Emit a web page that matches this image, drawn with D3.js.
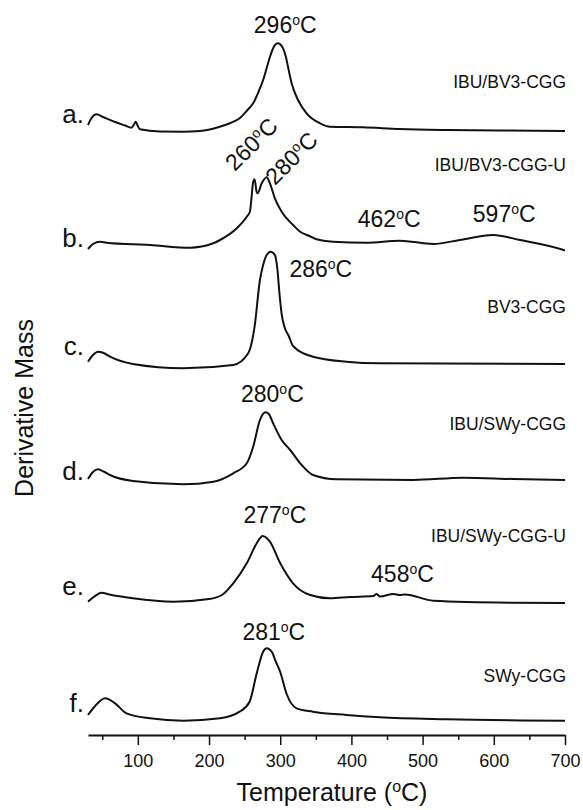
<!DOCTYPE html>
<html>
<head>
<meta charset="utf-8">
<script src="https://cdn.jsdelivr.net/npm/d3@7"></script>
<style>
  body { margin: 0; background: #fff; }
  svg text { font-family: "Liberation Sans", Arial, sans-serif; fill: #111; }
</style>
</head>
<body>
<svg id="chart" width="583" height="810"></svg>
<script>
// temperatures (°C) and derivative mass (arbitrary units, above each curve's own baseline)
const tempA = [30, 35, 42, 51, 68, 82, 91, 95, 97, 100, 103, 131, 163, 187, 215, 230, 243, 254, 262, 270, 276, 281, 285.5, 289, 292.5, 297, 301, 304, 308, 311, 316, 325, 337, 356, 370, 416, 468, 534, 609, 700];
const massA = [6, 13, 16.7, 14, 9, 5.5, 3.3, 7, 9.3, 5, 1.7, -0.5, -0.7, 0, 4.3, 8, 12.7, 21, 27.7, 40, 51, 63, 74, 81, 86, 87.7, 86, 82.7, 74, 64, 47.7, 31, 17.7, 7.7, 4.3, 3.7, 2, 1, 0.5, 0];

const tempB = [30, 37, 47, 56, 117, 173, 206, 215.5, 239, 253, 257.4, 259.8, 262, 264, 266.8, 268.2, 274, 281, 285.5, 292.5, 302, 318, 328, 341, 351, 374, 421, 468, 515, 552, 599, 637, 698, 700];
const massB = [1, 6, 8.3, 7.3, 5, 2.3, 6.7, 10, 21.7, 33.3, 38.3, 53.3, 68.3, 70.7, 58.3, 56.7, 66.7, 72.7, 66.7, 51.7, 38.3, 25, 18.3, 14, 10.7, 8.3, 7.3, 9.3, 6, 10, 15, 10, 0, -0.5];

const tempC = [30, 37, 44, 52, 61, 93, 164, 234, 255, 264, 271.5, 276, 281, 286.5, 292.5, 296, 299, 302, 306, 312, 318, 346, 393, 440, 700];
const massC = [2.3, 9, 12.3, 11, 7.3, 0, -4.3, -1, 10.7, 37.3, 84, 99, 109, 112.3, 109, 95, 70, 50, 37, 28, 18, 7.3, 2.3, 0.7, 0];

const tempD = [30, 37, 44, 52, 61, 93, 164, 206, 234, 253, 262, 271.5, 279.5, 284, 290, 302, 314, 328, 346, 379, 487, 557, 627, 700];
const massD = [1, 8, 10.7, 8.5, 5, -1, -4.3, -1.7, 6.7, 16.7, 33.3, 60, 67.7, 66, 56.7, 40, 30, 16.7, 5, 0.7, 0, 2.3, 1, 0];

const tempE = [30, 38, 49, 60, 93, 150, 200, 218, 234, 253, 267, 275.3, 285.5, 300, 318, 342, 370, 398, 430.7, 435.5, 440, 459, 468, 475, 515, 627, 700];
const massE = [1.3, 6, 10.3, 8.5, 4.7, 1.3, 4, 8, 19.7, 39.7, 59.7, 67, 61.3, 39.7, 19.7, 8, 4.7, 6, 7, 9, 6.5, 9, 8, 8.5, 2.3, 0.3, 0];

const tempF = [30, 40, 54, 68, 84, 117, 164, 215.5, 243, 257, 267, 276, 281, 288, 294, 300, 309, 323, 346, 393, 440, 534, 700];
const massF = [6, 15, 22.7, 17.7, 7.7, 2.7, 0.3, 2.7, 9.3, 19.3, 47.7, 69.3, 72.7, 69.3, 59, 49, 27, 12.7, 9.3, 6, 3.7, 1.7, 0.3];

const letters = ['a.', 'b.', 'c.', 'd.', 'e.', 'f.'];
const sampleNames = ['IBU/BV3-CGG', 'IBU/BV3-CGG-U', 'BV3-CGG', 'IBU/SWy-CGG', 'IBU/SWy-CGG-U', 'SWy-CGG'];
const offsets = [604, 485, 371, 255, 132, 14];   // vertical stacking offset per curve
const majorTicks = [100, 200, 300, 400, 500, 600, 700];
const minorTicks = [50, 150, 250, 350, 450, 550, 650];

// peak annotations: label, temperature, height (same units as the stacked curves)
const peakText = ['296', '286', '280', '277', '458', '281', '462', '597'];
const peakT    = [307, 357, 289, 292.5, 471.7, 291, 453, 614.6];
const peakV    = [702, 458, 333.3, 211.7, 153, 95, 508.3, 513.3];
const slantText = ['260', '280'];
const slantT    = [236.3, 292.5];
const slantV    = [563, 549];

const series = [[tempA, massA], [tempB, massB], [tempC, massC], [tempD, massD], [tempE, massE], [tempF, massF]];

const svg = d3.select('#chart');
const xScale = d3.scaleLinear().domain([30, 700]).range([88, 565]);
const yScale = d3.scaleLinear().domain([0, 620]).range([735, 115]);

const line = d3.line()
    .x(d => xScale(d[0]))
    .y(d => yScale(d[1]))
    .curve(d3.curveMonotoneX);

series.forEach((s, i) => {
    const pts = s[0].map((t, j) => [t, s[1][j] + offsets[i]]);
    svg.append('path')
        .datum(pts)
        .attr('d', line)
        .attr('fill', 'none')
        .attr('stroke', '#111')
        .attr('stroke-width', 2)
        .attr('stroke-linejoin', 'round');
});

// x axis: major + minor ticks
const xAxis = d3.axisBottom(xScale).tickValues(majorTicks).tickSize(10).tickSizeOuter(0).tickPadding(9);
const gx = svg.append('g').attr('transform', 'translate(0,735)').call(xAxis);
gx.selectAll('text').style('font-size', '18px').attr('fill', '#111');
gx.selectAll('line').attr('stroke', '#111').attr('stroke-width', 1.5);
gx.select('.domain').attr('stroke', '#111').attr('stroke-width', 2);

const minorAxis = d3.axisBottom(xScale).tickValues(minorTicks).tickSize(5).tickSizeOuter(0).tickFormat('');
const gm = svg.append('g').attr('transform', 'translate(0,735)').call(minorAxis);
gm.select('.domain').remove();
gm.selectAll('line').attr('stroke', '#111').attr('stroke-width', 1.5);

// axis titles
const xt = svg.append('text')
    .attr('x', 332).attr('y', 801)
    .attr('text-anchor', 'middle')
    .style('font-size', '25px')
    .text('Temperature (');
xt.append('tspan').attr('dy', -9).style('font-size', '16px').text('o');
xt.append('tspan').attr('dy', 9).text('C)');

svg.append('text')
    .attr('transform', 'translate(33,408) rotate(-90)')
    .attr('text-anchor', 'middle')
    .style('font-size', '25px')
    .text('Derivative Mass');

// row letters and sample names
const letterY = [123, 247, 355, 480, 595, 712];
svg.selectAll('.letter')
    .data(letters)
    .enter().append('text')
    .attr('class', 'letter')
    .attr('x', 84)
    .attr('y', (d, i) => letterY[i])
    .attr('text-anchor', 'end')
    .style('font-size', '26px')
    .text(d => d);

const nameY = [88, 171, 313, 430, 542, 682];
svg.selectAll('.sname')
    .data(sampleNames)
    .enter().append('text')
    .attr('class', 'sname')
    .attr('x', 566)
    .attr('y', (d, i) => nameY[i])
    .attr('text-anchor', 'end')
    .style('font-size', '17.5px')
    .attr('fill', '#222')
    .text(d => d);

function degLabel(sel, txt) {
    sel.append('tspan').text(txt);
    sel.append('tspan').attr('dy', -8).style('font-size', '14px').text('o');
    sel.append('tspan').attr('dy', 8).text('C');
}

peakText.forEach((t, i) => {
    const el = svg.append('text')
        .attr('x', xScale(peakT[i]))
        .attr('y', yScale(peakV[i]))
        .attr('text-anchor', 'middle')
        .style('font-size', '23px');
    degLabel(el, t);
});

slantText.forEach((t, i) => {
    const el = svg.append('text')
        .attr('transform', `translate(${xScale(slantT[i])},${yScale(slantV[i])}) rotate(-45)`)
        .style('font-size', '23px');
    degLabel(el, t);
});
</script>
</body>
</html>
